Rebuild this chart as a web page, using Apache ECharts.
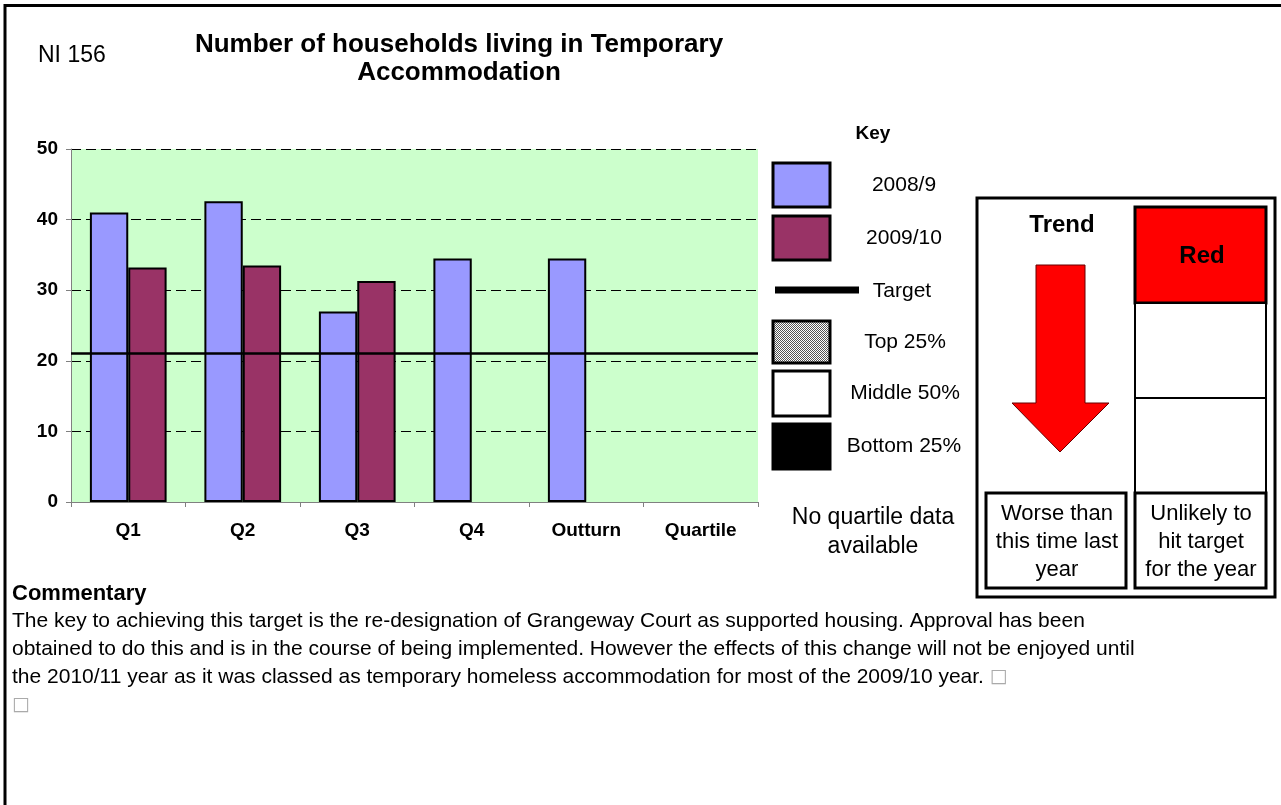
<!DOCTYPE html>
<html>
<head>
<meta charset="utf-8">
<title>NI 156</title>
<script src="https://cdn.jsdelivr.net/npm/echarts@6/dist/echarts.min.js"></script>
<style>
  html, body { margin: 0; padding: 0; background: #fff; }
  #main { width: 1281px; height: 805px; }
</style>
</head>
<body>
<div id="main"></div>
<script>
var categories = ['Q1', 'Q2', 'Q3', 'Q4', 'Outturn', 'Quartile'];
var values0809 = [41, 42.6, 27, 34.5, 34.5, null];
var values0910 = [33.2, 33.5, 31.3, null, null, null];
var target = 21.1;
var yTicks = [0, 10, 20, 30, 40, 50];

var keyLabels = ['2008/9', '2009/10', 'Target', 'Top 25%', 'Middle 50%', 'Bottom 25%'];
var commentary = [
    'The key to achieving this target is the re-designation of Grangeway Court as supported housing. Approval has been',
    'obtained to do this and is in the course of being implemented. However the effects of this change will not be enjoyed until',
    'the 2010/11 year as it was classed as temporary homeless accommodation for most of the 2009/10 year. {sq|\u25A1}',
    '{sq|\u25A1}'
];

var FONT = '"Liberation Sans", Arial, sans-serif';

var myChart = echarts.init(document.getElementById('main'));

// dotted swatch for "Top 25%"
var dots = document.createElement('canvas');
dots.width = 2;
dots.height = 2;
var dctx = dots.getContext('2d');
dctx.fillStyle = '#fff';
dctx.fillRect(0, 0, 2, 2);
dctx.fillStyle = '#555';
dctx.fillRect(0, 0, 1, 1);
dctx.fillRect(1, 1, 1, 1);

function txt(s, x, y, size, opts) {
    opts = opts || {};
    return {
        type: 'text',
        x: x,
        y: y,
        silent: true,
        style: {
            text: s,
            font: (opts.bold ? 'bold ' : '') + size + 'px ' + FONT,
            fill: opts.color || '#000',
            align: opts.align || 'center',
            textAlign: opts.align || 'center',
            verticalAlign: opts.va || 'middle',
            textVerticalAlign: opts.va || 'middle',
            lineHeight: opts.lineHeight,
            rich: opts.rich
        }
    };
}

function box(x, y, w, h, fill, lw) {
    return {
        type: 'rect',
        silent: true,
        shape: { x: x, y: y, width: w, height: h },
        style: { fill: fill, stroke: '#000', lineWidth: lw || 3 }
    };
}

var graphics = [
    // page frame
    {
        type: 'polyline',
        silent: true,
        shape: { points: [[5, 805], [5, 5.5], [1281, 5.5]] },
        style: { stroke: '#000', lineWidth: 3, fill: null }
    },
    txt('NI 156', 38, 56, 23, { align: 'left' }),
    txt('Number of households living in Temporary\nAccommodation', 459, 59, 26, { bold: true, lineHeight: 28 }),

    // key
    txt('Key', 873, 134, 19, { bold: true }),
    box(773, 163, 57, 44, '#9999ff'),
    box(773, 216, 57, 44, '#993366'),
    {
        type: 'line',
        silent: true,
        shape: { x1: 775, y1: 290, x2: 859, y2: 290 },
        style: { stroke: '#000', lineWidth: 7 }
    },
    box(773, 321, 57, 42, { image: dots, repeat: 'repeat' }),
    box(773, 371, 57, 45, '#fff'),
    box(773, 424, 57, 45, '#000'),
    txt(keyLabels[0], 904, 185, 21),
    txt(keyLabels[1], 904, 238, 21),
    txt(keyLabels[2], 902, 291, 21),
    txt(keyLabels[3], 905, 342, 21),
    txt(keyLabels[4], 905, 393, 21),
    txt(keyLabels[5], 904, 446, 21),
    txt('No quartile data\navailable', 873, 532, 23, { lineHeight: 29 }),

    // trend / status panel
    box(977, 198, 298, 399, '#fff'),
    txt('Trend', 1062, 225, 24, { bold: true }),
    {
        type: 'polygon',
        silent: true,
        shape: {
            points: [[1036, 265], [1085, 265], [1085, 403], [1109, 403],
                     [1060, 452], [1012, 403], [1036, 403]]
        },
        style: { fill: '#ff0000', stroke: '#660000', lineWidth: 1 }
    },
    box(1135, 207, 131, 96, '#ff0000'),
    box(1135, 303, 131, 95, '#fff', 2),
    box(1135, 398, 131, 95, '#fff', 2),
    txt('Red', 1202, 256, 24, { bold: true }),
    box(986, 493, 140, 95, '#fff'),
    box(1135, 493, 131, 95, '#fff'),
    txt('Worse than\nthis time last\nyear', 1057, 542, 22, { lineHeight: 28 }),
    txt('Unlikely to\nhit target\nfor the year', 1201, 542, 22, { lineHeight: 28 }),

    // commentary
    txt('Commentary', 12, 594, 22, { bold: true, align: 'left' }),
    txt(commentary.join('\n'), 12, 607, 21, {
        align: 'left', va: 'top', lineHeight: 28,
        rich: { sq: { fill: '#aaa', font: '19px "DejaVu Sans", sans-serif', lineHeight: 28 } }
    })
];

var option = {
    animation: false,
    backgroundColor: '#fff',
    grid: {
        left: 71,
        right: 523,
        top: 149,
        bottom: 303,
        show: true,
        backgroundColor: '#ccffcc',
        borderWidth: 0
    },
    xAxis: {
        type: 'category',
        data: categories,
        axisLine: { lineStyle: { color: '#808080', width: 1 } },
        axisTick: { show: true, length: 5, inside: false, lineStyle: { color: '#808080' } },
        axisLabel: {
            color: '#000',
            fontFamily: FONT,
            fontWeight: 'bold',
            fontSize: 19,
            margin: 19
        }
    },
    yAxis: {
        type: 'value',
        min: yTicks[0],
        max: yTicks[yTicks.length - 1],
        interval: 10,
        axisLine: { show: true, lineStyle: { color: '#808080', width: 1 } },
        axisTick: { show: true, length: 5, lineStyle: { color: '#808080' } },
        axisLabel: {
            color: '#000',
            fontFamily: FONT,
            fontWeight: 'bold',
            fontSize: 19,
            margin: 13
        },
        splitLine: {
            show: true,
            lineStyle: { color: '#000', width: 1, type: [10, 5] }
        }
    },
    series: [
        {
            name: '2008/9',
            type: 'bar',
            data: values0809,
            barGap: '0%',
            barCategoryGap: '33%',
            itemStyle: { color: '#9999ff', borderColor: '#000', borderWidth: 2 },
            markLine: {
                silent: true,
                symbol: 'none',
                label: { show: false },
                lineStyle: { color: '#000', width: 2.5, type: 'solid' },
                data: [{ yAxis: target }]
            }
        },
        {
            name: '2009/10',
            type: 'bar',
            data: values0910,
            itemStyle: { color: '#993366', borderColor: '#000', borderWidth: 2 }
        }
    ],
    graphic: graphics
};

myChart.setOption(option);
</script>
</body>
</html>
